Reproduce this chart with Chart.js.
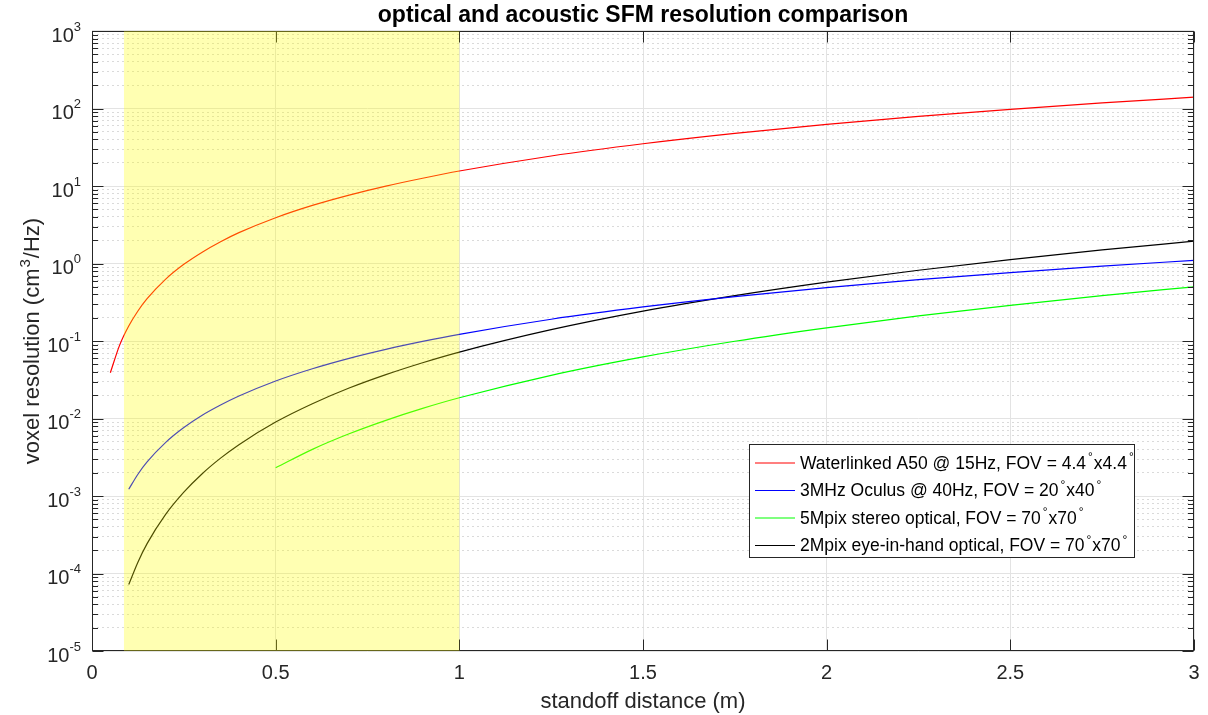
<!DOCTYPE html>
<html><head><meta charset="utf-8">
<script src="https://cdn.jsdelivr.net/npm/chart.js@4.4.1/dist/chart.umd.min.js"></script>
<style>html,body{margin:0;padding:0;background:#fff;overflow:hidden;}</style>
</head><body>
<canvas id="c" width="1208" height="715"></canvas>
<script>
// ---------------- data ----------------
const distance = [0.05,0.075,0.1,0.125,0.15,0.2,0.25,0.3,0.35,0.4,0.5,0.6,0.7,0.8,0.9,1.0,1.25,1.5,1.75,2.0,2.25,2.5,2.75,3.0];
const waterlinkedA50 = [0.039,0.0878,0.156,0.244,0.351,0.624,0.975,1.40,1.91,2.50,3.90,5.62,7.64,9.98,12.6,15.6,24.4,35.1,47.8,62.4,79.0,97.5,118,140];
const oculus3MHz = [null,null,0.00122,0.00191,0.00275,0.00488,0.00763,0.0110,0.0149,0.0195,0.0305,0.0439,0.0598,0.0781,0.0988,0.122,0.191,0.275,0.374,0.488,0.618,0.763,0.923,1.10];
const stereo5Mpix = [null,null,null,null,null,null,null,null,null,null,0.00231,0.0040,0.00635,0.00947,0.0135,0.0185,0.0361,0.0624,0.0992,0.148,0.211,0.289,0.385,0.50];
const eyeInHand2Mpix = [null,null,0.000072,0.000140,0.000243,0.000575,0.00112,0.00194,0.00308,0.0046,0.00899,0.0155,0.0247,0.0368,0.0524,0.0719,0.140,0.243,0.385,0.575,0.819,1.12,1.50,1.94];
const seriesLabels = [
  'Waterlinked A50 @ 15Hz, FOV = 4.4°x4.4°',
  '3MHz Oculus @ 40Hz, FOV = 20°x40°',
  '5Mpix stereo optical, FOV = 70°x70°',
  '2Mpix eye-in-hand optical, FOV = 70°x70°'
];
const seriesColors = ['#ff0000','#0000ff','#00ff00','#000000'];
const xTickValues = [0,0.5,1,1.5,2,2.5,3];
const yDecadeExponents = [-5,-4,-3,-2,-1,0,1,2,3];
const shadedRange = [0.087, 1.0];
const titleText = 'optical and acoustic SFM resolution comparison';
const xLabelText = 'standoff distance (m)';
const yLabelParts = ['voxel resolution (cm', '3', '/Hz)'];

// ---------------- helpers ----------------
const FONT = '"Liberation Sans", Arial, Helvetica, sans-serif';
const AXIS_COLOR = '#262626';
function isDecade(v){ const l = Math.log10(v); return Math.abs(l - Math.round(l)) < 1e-6; }
function seriesPoints(vals){ return distance.map((x,i)=>({x:x, y:vals[i]})); }
const allSeries = [waterlinkedA50, oculus3MHz, stereo5Mpix, eyeInHand2Mpix];

const decorPlugin = {
  id: 'decor',
  afterDatasetsDraw(chart){
    const ctx = chart.ctx, a = chart.chartArea;
    const xs = chart.scales.x, ys = chart.scales.y;
    ctx.save();
    ctx.strokeStyle = AXIS_COLOR; ctx.lineWidth = 1;
    const L = Math.round(a.left)+0.5, T = Math.round(a.top)+0.5, R = Math.round(a.right)-0.5, B = Math.round(a.bottom)-0.5;
    ctx.strokeRect(L, T, R-L, B-T);
    ctx.beginPath();
    xTickValues.forEach(v=>{
      const px = Math.round(xs.getPixelForValue(v))+0.5;
      ctx.moveTo(px, B); ctx.lineTo(px, B-11);
      ctx.moveTo(px, T); ctx.lineTo(px, T+11);
    });
    ys.ticks.forEach(t=>{
      const py = Math.round(ys.getPixelForValue(t.value))+0.5;
      const len = isDecade(t.value) ? 11 : 5.5;
      ctx.moveTo(L, py); ctx.lineTo(L+len, py);
      ctx.moveTo(R, py); ctx.lineTo(R-len, py);
    });
    ctx.stroke();
    const x0 = xs.getPixelForValue(shadedRange[0]);
    const x1 = xs.getPixelForValue(shadedRange[1]);
    ctx.fillStyle = 'rgba(255,255,0,0.3)';
    ctx.fillRect(x0, a.top, x1-x0, a.bottom-a.top);
    ctx.restore();
  },
  afterDraw(chart){
    const ctx = chart.ctx, a = chart.chartArea;
    const ys = chart.scales.y;
    ctx.save();
    ctx.fillStyle = AXIS_COLOR;
    ctx.textBaseline = 'middle';
    ctx.textAlign = 'left';
    yDecadeExponents.forEach(e=>{
      const py = ys.getPixelForValue(Math.pow(10,e));
      const expStr = String(e);
      ctx.font = '13px ' + FONT;
      const we = ctx.measureText(expStr).width;
      ctx.font = '20px ' + FONT;
      const wb = ctx.measureText('10').width;
      const right = a.left - 11;
      ctx.fillText('10', right - we - wb, py + 5);
      ctx.font = '13px ' + FONT;
      ctx.fillText(expStr, right - we, py - 4);
    });
    ctx.translate(39, (a.top + a.bottom)/2);
    ctx.rotate(-Math.PI/2);
    ctx.textBaseline = 'alphabetic';
    ctx.font = '22px ' + FONT;
    const w1 = ctx.measureText(yLabelParts[0]).width;
    const w3 = ctx.measureText(yLabelParts[2]).width;
    ctx.font = '15px ' + FONT;
    const w2 = ctx.measureText(yLabelParts[1]).width;
    let sx = -(w1 + w2 + w3 + 2)/2;
    ctx.font = '22px ' + FONT;
    ctx.fillText(yLabelParts[0], sx, 0);
    ctx.font = '15px ' + FONT;
    ctx.fillText(yLabelParts[1], sx + w1 + 1, -9);
    ctx.font = '22px ' + FONT;
    ctx.fillText(yLabelParts[2], sx + w1 + w2 + 2, 0);
    ctx.restore();

    // legend
    ctx.save();
    const bx = 749.5, by = 444.5, bw = 385, bh = 113;
    ctx.fillStyle = '#ffffff';
    ctx.fillRect(bx, by, bw, bh);
    ctx.strokeStyle = '#262626'; ctx.lineWidth = 1;
    ctx.strokeRect(bx, by, bw, bh);
    ctx.textBaseline = 'middle';
    ctx.textAlign = 'left';
    chart.data.datasets.forEach((ds,i)=>{
      const ry = 463 + i*27.5;
      ctx.strokeStyle = ds.borderColor; ctx.lineWidth = 1.2;
      ctx.beginPath(); ctx.moveTo(755, ry); ctx.lineTo(795, ry); ctx.stroke();
      ctx.fillStyle = '#000';
      const parts = ds.label.split('°');
      let x = 800;
      parts.forEach((p, k)=>{
        ctx.font = '17.5px ' + FONT;
        ctx.fillText(p, x, ry + 1);
        x += ctx.measureText(p).width;
        if (k < parts.length - 1) {
          ctx.font = '12px ' + FONT;
          x += 2;
          ctx.fillText('°', x, ry - 5);
          x += ctx.measureText('°').width + 1;
        }
      });
    });
    ctx.restore();
  }
};

const chart = new Chart(document.getElementById('c'), {
  type: 'line',
  data: {
    datasets: allSeries.map((vals,i)=>({
      label: seriesLabels[i],
      data: seriesPoints(vals),
      borderColor: seriesColors[i],
      backgroundColor: seriesColors[i],
      borderWidth: 1.2,
      pointRadius: 0,
      cubicInterpolationMode: 'monotone',
      fill: false,
      spanGaps: false
    }))
  },
  options: {
    responsive: false,
    animation: false,
    devicePixelRatio: 1,
    layout: { padding: { left: 92, right: 14, top: 0, bottom: 0 } },
    plugins: {
      legend: { display: false },
      tooltip: { enabled: false },
      title: {
        display: true, text: titleText, color: '#000',
        font: { family: FONT, size: 23, weight: 'bold' },
        padding: { top: 2, bottom: 1.4 }
      }
    },
    scales: {
      x: {
        type: 'linear', min: 0, max: 3,
        afterBuildTicks: s => { s.ticks = xTickValues.map(v=>({value:v})); },
        afterFit: s => { s.height = 64; s.paddingLeft = 0; s.paddingRight = 0; },
        ticks: { color: AXIS_COLOR, font: { family: FONT, size: 20 }, padding: 10, maxRotation: 0, autoSkip: false,
                 callback: v => String(v) },
        grid: { color: '#e3e3e3', lineWidth: 1, drawTicks: false },
        border: { display: false },
        title: { display: true, text: xLabelText, color: AXIS_COLOR, font: { family: FONT, size: 22 }, padding: { top: 0, bottom: 0 } }
      },
      y: {
        type: 'logarithmic', min: 1e-5, max: 1e3,
        afterBuildTicks: s => {
          const t = [];
          for (let e = -5; e < 3; e++) for (let m = 1; m < 10; m++) t.push({value: Number((m*Math.pow(10,e)).toPrecision(3))});
          t.push({value: 1e3});
          s.ticks = t;
        },
        afterFit: s => { s.width = 0; },
        ticks: { display: false },
        grid: {
          drawTicks: false, lineWidth: 1,
          color: c => (c.tick && isDecade(c.tick.value)) ? '#e3e3e3' : '#dadada'
        },
        border: { display: false, dash: c => (c.tick && !isDecade(c.tick.value)) ? [2,3] : [] }
      }
    }
  },
  plugins: [decorPlugin]
});
</script>
</body></html>
